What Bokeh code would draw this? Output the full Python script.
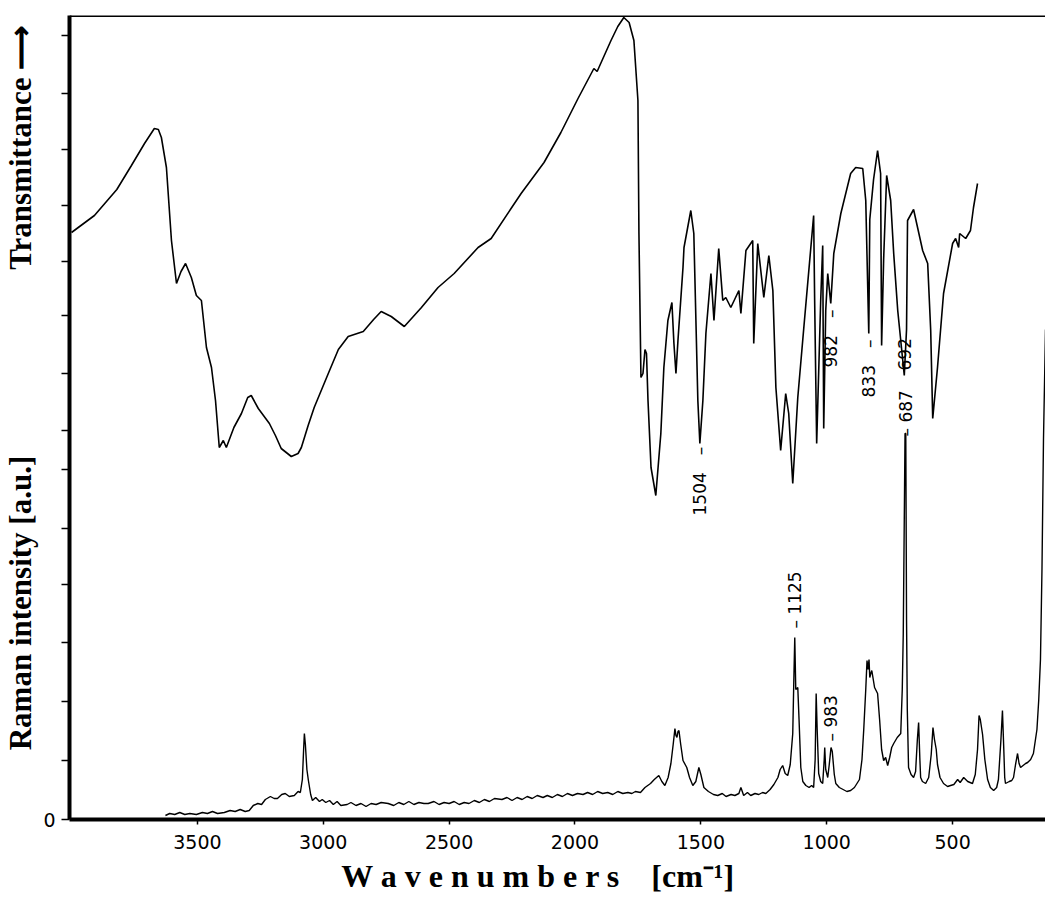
from math import pi
from bokeh.plotting import figure
from bokeh.models import Range1d, FixedTicker, Span
from bokeh.core.properties import value
from bokeh.embed import file_html
from bokeh.resources import INLINE

# ---------------- data ----------------
ir_wn = [4000, 3909, 3820, 3762, 3710, 3671, 3655, 3643, 3623, 3603, 3583, 3565, 3547, 3524,
         3504, 3484, 3464, 3444, 3428, 3413, 3397, 3385, 3355, 3325, 3300, 3286, 3258, 3214,
         3190, 3167, 3127, 3100, 3087, 3060, 3036, 2980, 2940, 2901, 2841, 2800, 2770, 2730,
         2678, 2610, 2544, 2480, 2385, 2333, 2254, 2214, 2123, 2056, 1988, 1925, 1912, 1905,
         1857, 1830, 1806, 1785, 1766, 1750, 1746, 1738, 1730, 1722, 1716, 1710, 1698, 1679,
         1659, 1647, 1631, 1615, 1607, 1599, 1591, 1571, 1567, 1540, 1528, 1512, 1504, 1492,
         1480, 1460, 1448, 1429, 1413, 1401, 1381, 1349, 1341, 1321, 1294, 1290, 1274, 1250,
         1230, 1214, 1202, 1183, 1163, 1151, 1135, 1115, 1091, 1052, 1048, 1040, 1024, 1016,
         1012, 1004, 996, 984, 972, 944, 905, 885, 857, 845, 833, 829, 814, 798, 786, 782,
         774, 762, 746, 734, 718, 692, 683, 679, 655, 619, 599, 587, 579, 560, 536, 500,
         488, 476, 472, 448, 429, 417, 401]
ir_val = [587, 604, 630, 654, 676, 691, 690, 682, 652, 579, 536, 548, 556, 542,
          524, 519, 472, 452, 419, 372, 379, 372, 392, 406, 422, 424, 411, 396,
          384, 371, 363, 366, 372, 394, 412, 446, 470, 483, 488, 500, 508, 503,
          493, 512, 532, 546, 572, 581, 611, 626, 657, 687, 721, 751, 748, 752,
          779, 793, 802, 797, 779, 719, 586, 442, 446, 470, 466, 419, 352, 324,
          386, 452, 499, 517, 476, 446, 479, 552, 572, 609, 586, 419, 376, 419,
          486, 546, 499, 571, 519, 522, 512, 529, 506, 569, 579, 476, 576, 522,
          564, 529, 432, 369, 426, 406, 336, 422, 492, 604, 519, 376, 519, 574,
          391, 509, 546, 516, 566, 606, 646, 652, 651, 619, 486, 600, 640, 669, 646, 474,
          560, 644, 619, 566, 509, 444, 490, 599, 610, 569, 556, 489, 401, 452, 526, 576,
          581, 572, 586, 581, 589, 612, 636]

raman_wn = [3627, 3610, 3590, 3570, 3550, 3530, 3504, 3480, 3460, 3440, 3420, 3393, 3370, 3350,
            3330, 3310, 3294, 3278, 3260, 3245, 3230, 3210, 3195, 3182, 3165, 3151, 3135, 3115,
            3100, 3091, 3083, 3078, 3075, 3071, 3065, 3059, 3050, 3043, 3030, 3015, 3004, 2990,
            2975, 2960, 2945, 2930, 2905, 2890, 2870, 2850, 2830, 2810, 2790, 2770, 2742, 2720,
            2700, 2680, 2660, 2640, 2620, 2600, 2583, 2560, 2540, 2520, 2500, 2480, 2460, 2440,
            2421, 2400, 2380, 2360, 2340, 2320, 2290, 2270, 2250, 2230, 2210, 2190, 2170, 2150,
            2127, 2110, 2090, 2070, 2050, 2030, 2010, 1990, 1968, 1950, 1930, 1910, 1890, 1870,
            1850, 1830, 1810, 1790, 1774, 1760, 1740, 1722, 1700, 1685, 1667, 1655, 1643, 1630,
            1619, 1610, 1603, 1599, 1595, 1591, 1587, 1580, 1571, 1556, 1545, 1532, 1520, 1508,
            1500, 1488, 1470, 1450, 1433, 1415, 1400, 1380, 1365, 1349, 1341, 1330, 1315, 1302,
            1285, 1270, 1255, 1242, 1225, 1210, 1194, 1185, 1175, 1165, 1155, 1145, 1135, 1131,
            1127, 1123, 1115, 1110, 1103, 1095, 1083, 1070, 1060, 1052, 1046, 1042, 1038, 1032,
            1024, 1016, 1010, 1008, 1004, 996, 990, 983, 978, 970, 964, 950, 935, 920,
            905, 890, 870, 860, 853, 845, 840, 836, 832, 829, 825, 821, 810, 798,
            790, 782, 774, 766, 758, 750, 742, 734, 720, 706, 700, 696, 692, 689,
            686, 683, 680, 675, 665, 655, 647, 640, 635, 630, 627, 620, 607, 595,
            585, 578, 572, 565, 560, 550, 536, 520, 508, 495, 480, 470, 456, 440,
            421, 410, 401, 395, 390, 381, 372, 361, 350, 337, 325, 318, 308, 302,
            298, 293, 290, 275, 265, 258, 250, 242, 236, 230, 220, 210, 202, 190,
            179, 165, 158, 151, 145, 139, 131]
raman_val = [4, 6, 5, 7, 5, 6, 5, 7, 6, 8, 6, 7, 9, 8,
             10, 8, 9, 14, 16, 15, 20, 23, 21, 21, 25, 26, 23, 24,
             28, 27, 40, 70, 86, 75, 50, 39, 25, 19, 22, 18, 20, 17,
             19, 15, 18, 14, 15, 17, 14, 16, 13, 16, 15, 17, 16, 14,
             17, 15, 18, 15, 17, 16, 16, 18, 15, 17, 16, 18, 15, 17,
             16, 19, 17, 20, 18, 21, 20, 22, 19, 22, 20, 23, 21, 24,
             22, 24, 22, 25, 23, 26, 24, 26, 25, 27, 25, 28, 26, 27,
             25, 28, 26, 27, 26, 28, 27, 32, 36, 40, 44, 38, 34, 42,
             56, 75, 91, 84, 82, 88, 89, 75, 59, 52, 42, 34, 38, 52,
             45, 32, 28, 25, 24, 26, 23, 25, 24, 26, 32, 24, 27, 24,
             26, 25, 27, 26, 30, 35, 42, 50, 54, 46, 44, 55, 86, 136,
             182, 130, 132, 100, 52, 38, 34, 32, 34, 32, 60, 126, 90, 46,
             38, 36, 60, 72, 50, 42, 55, 72, 68, 45, 36, 32, 30, 28,
             29, 32, 40, 60, 90, 130, 159, 150, 160, 142, 146, 149, 132, 126,
             100, 70, 59, 62, 54, 62, 72, 76, 82, 86, 130, 186, 300, 386,
             386, 200, 110, 52, 45, 42, 48, 80, 97, 60, 42, 38, 36, 42,
             65, 92, 80, 70, 55, 42, 36, 33, 34, 35, 40, 37, 42, 38,
             36, 45, 70, 104, 100, 85, 60, 40, 32, 29, 32, 40, 80, 109,
             80, 42, 36, 38, 39, 42, 55, 66, 56, 52, 54, 56, 57, 60,
             66, 90, 119, 160, 250, 380, 490]

ann_text = ["1504\u2003\u2013", "982\u2003\u2013", "833\u2003\u2013", "692",
            "\u2013 687", "\u2013 1125", "\u2013 983"]
ann_wn = [1504, 982, 833, 692, 687, 1125, 983]
ann_y = [304, 452, 422, 449, 383, 191, 78]

x_ticks = [3500, 3000, 2500, 2000, 1500, 1000, 500]
y_ticks = [0, 59, 118, 177, 235, 291, 350, 389, 446, 504, 558, 614, 670, 726, 784]

x_title = "W a v e n u m b e r s\u2003[cm\u207b\u00b9]\u2003\u2009"
y_title = ("\u2003\u2002\u2009\u2009Raman intensity [a.u.]" + "\u2003" * 6 + "Transmittance \u27f6")

# ---------------- figure ----------------
p = figure(width=1045, height=899, x_range=Range1d(4008, 131), y_range=Range1d(0, 804),
           output_backend="svg", toolbar_location=None,
           min_border_left=68, min_border_right=0, min_border_top=15, min_border_bottom=80)
p.grid.visible = False
p.outline_line_color = None
p.background_fill_color = "white"
p.border_fill_color = "white"

p.xaxis.ticker = FixedTicker(ticks=x_ticks, minor_ticks=[])
p.xaxis.axis_line_width = 4
p.xaxis.axis_line_color = "black"
p.xaxis.major_tick_out = 5
p.xaxis.major_tick_in = 0
p.xaxis.major_tick_line_width = 1.5
p.xaxis.minor_tick_line_color = None
p.xaxis.major_label_standoff = 10
p.xaxis.major_label_text_font = "DejaVu Sans"
p.xaxis.major_label_text_font_size = "19px"
p.xaxis.major_label_text_color = "black"
p.xaxis.axis_label = x_title
p.xaxis.axis_label_standoff = 6
p.xaxis.axis_label_text_font = "Liberation Serif"
p.xaxis.axis_label_text_font_style = "bold"
p.xaxis.axis_label_text_font_size = "32px"
p.xaxis.axis_label_text_color = "black"

p.yaxis.ticker = FixedTicker(ticks=y_ticks, minor_ticks=[])
p.yaxis.major_label_overrides = {t: "" for t in y_ticks if t != 0}
p.yaxis.axis_line_width = 4
p.yaxis.axis_line_color = "black"
p.yaxis.major_tick_out = 8
p.yaxis.major_tick_in = 0
p.yaxis.major_tick_line_width = 1.5
p.yaxis.minor_tick_line_color = None
p.yaxis.major_label_standoff = 6
p.yaxis.major_label_text_font = "DejaVu Sans"
p.yaxis.major_label_text_font_size = "19px"
p.yaxis.major_label_text_color = "black"
p.yaxis.axis_label = y_title
p.yaxis.axis_label_standoff = 2
p.yaxis.axis_label_text_font = "Liberation Serif"
p.yaxis.axis_label_text_font_style = "bold"
p.yaxis.axis_label_text_font_size = "31px"
p.yaxis.axis_label_text_color = "black"

p.add_layout(Span(location=804, dimension="width", line_color="black", line_width=3))

p.line(ir_wn, ir_val, line_color="black", line_width=1.6)
p.line(raman_wn, raman_val, line_color="black", line_width=1.4)

p.text(x=ann_wn, y=ann_y, text=ann_text, angle=pi / 2,
       text_font=value("DejaVu Sans"), text_font_size="17px", text_color="black",
       text_align="left", text_baseline="middle")

open("out.html", "w").write(file_html(p, INLINE))
